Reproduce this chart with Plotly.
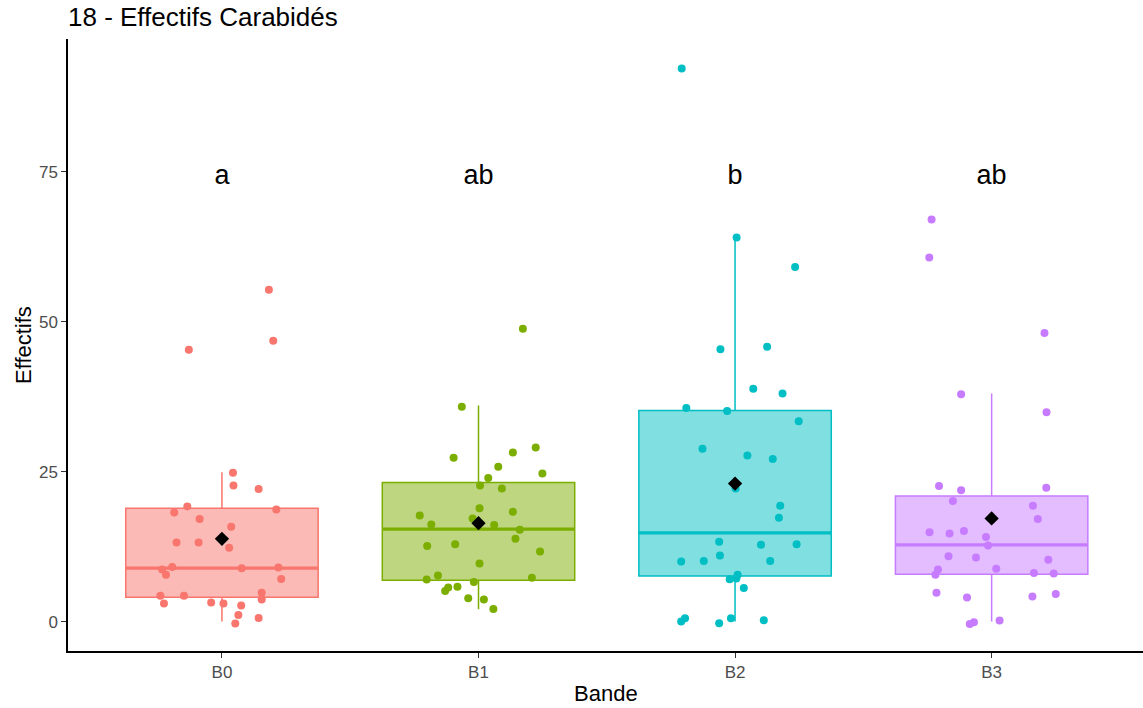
import plotly.graph_objects as go

# ---------------- data ----------------
categories = ["B0", "B1", "B2", "B3"]
colors = ["#F8766D", "#7CAE00", "#00BFC4", "#C77CFF"]
fills = ["rgba(248,118,109,0.5)", "rgba(124,174,0,0.5)", "rgba(0,191,196,0.5)", "rgba(199,124,255,0.5)"]

# box statistics
q1 = [4.07, 6.9, 7.6, 7.9]
median = [8.9, 15.4, 14.8, 12.8]
q3 = [18.9, 23.2, 35.2, 20.95]
lower = [0.0, 2.07, 0.0, 0.0]
upper = [24.9, 36.0, 64.0, 38.0]
means = [13.8, 16.4, 23.0, 17.2]

# letters of significance
letters = ["a", "ab", "b", "ab"]
letter_y = [74, 74, 74, 74]

# jittered observations: horizontal jitter (category units) and values
jit_B0 = [0.183, 0.20, -0.129, 0.043, 0.045, 0.143, -0.135, -0.186, 0.212, -0.087, 0.036,
          -0.177, -0.091, 0.028, -0.194, -0.233, -0.218, 0.077, 0.22, 0.231, -0.24, -0.148,
          -0.226, -0.042, 0.006, 0.155, 0.155, 0.075, 0.064, 0.052, 0.143]
val_B0 = [55.3, 46.8, 45.3, 24.8, 22.7, 22.1, 19.2, 18.2, 18.7, 17.1, 15.8, 13.2, 13.2, 12.3,
          9.1, 8.7, 7.8, 8.9, 9.0, 7.1, 4.3, 4.3, 3.0, 3.2, 3.0, 4.8, 3.7, 2.7, 1.1, -0.3, 0.6]

jit_B1 = [0.173, -0.065, 0.134, 0.223, -0.097, 0.077, 0.249, 0.038, 0.006, 0.091, 0.004,
          -0.229, 0.134, -0.184, -0.023, 0.061, 0.161, 0.144, -0.2, -0.091, 0.24, 0.004,
          -0.202, -0.158, 0.208, -0.018, -0.118, -0.13, -0.082, -0.04, 0.021, 0.058]
val_B1 = [48.8, 35.8, 28.2, 29.0, 27.3, 25.8, 24.7, 23.95, 22.7, 22.2, 18.9, 17.7, 18.3, 16.2,
          17.2, 16.1, 15.3, 13.8, 12.6, 12.9, 11.7, 9.7, 7.0, 7.7, 7.3, 6.6, 5.7, 5.1, 5.8,
          3.9, 3.7, 2.1]

jit_B2 = [-0.208, 0.006, 0.234, -0.057, 0.125, 0.071, 0.185, -0.19, -0.031, 0.248, -0.127,
          0.048, 0.147, 0.002, 0.176, 0.171, -0.062, 0.101, 0.24, -0.059, -0.21, -0.122,
          0.137, 0.01, -0.021, 0.005, 0.034, -0.195, -0.21, -0.062, -0.016, 0.112]
val_B2 = [92.2, 64.0, 59.1, 45.4, 45.8, 38.8, 38.0, 35.6, 35.1, 33.4, 28.8, 27.7, 27.1, 22.2,
          19.3, 17.3, 13.3, 12.8, 12.9, 11.0, 10.0, 10.1, 10.1, 7.8, 7.07, 7.2, 5.6, 0.56,
          0.0, -0.28, 0.56, 0.23]

jit_B3 = [-0.234, -0.243, 0.206, -0.119, 0.214, -0.205, -0.119, 0.213, -0.151, 0.161, 0.18,
          -0.242, -0.164, -0.108, -0.022, -0.014, -0.168, -0.061, 0.221, -0.209, -0.219,
          0.018, 0.165, 0.242, -0.215, -0.096, 0.159, 0.25, -0.085, -0.069, 0.031]
val_B3 = [67.0, 60.7, 48.1, 37.9, 34.9, 22.6, 21.9, 22.3, 20.1, 19.3, 17.1, 14.9, 14.7, 15.1,
          14.1, 12.7, 10.9, 10.7, 10.3, 8.7, 7.8, 8.8, 8.1, 8.0, 4.8, 4.0, 4.2, 4.6, -0.4,
          -0.1, 0.2]

jitters = [jit_B0, jit_B1, jit_B2, jit_B3]
values = [val_B0, val_B1, val_B2, val_B3]

BOX_W = 0.75
FONT = "Liberation Sans, Arial, sans-serif"

fig = go.Figure()

# boxes
for i, cat in enumerate(categories):
    fig.add_trace(go.Box(
        x=[i], q1=[q1[i]], median=[median[i]], q3=[q3[i]],
        lowerfence=[lower[i]], upperfence=[upper[i]],
        orientation="v", width=BOX_W, whiskerwidth=0,
        fillcolor=fills[i], line=dict(color=colors[i], width=1.5),
        boxpoints=False, showlegend=False, hoverinfo="skip",
    ))

# thicker median lines
for i, cat in enumerate(categories):
    fig.add_trace(go.Scatter(
        x=[i - BOX_W / 2, i + BOX_W / 2], y=[median[i], median[i]],
        mode="lines", line=dict(color=colors[i], width=3.2),
        showlegend=False, hoverinfo="skip",
    ))

# jittered points
for i, cat in enumerate(categories):
    fig.add_trace(go.Scatter(
        x=[i + j for j in jitters[i]], y=values[i],
        mode="markers", marker=dict(color=colors[i], size=8, line=dict(width=0)),
        showlegend=False, hoverinfo="skip",
    ))

# means
fig.add_trace(go.Scatter(
    x=list(range(len(categories))), y=means, mode="markers",
    marker=dict(symbol="diamond", color="black", size=11, line=dict(width=0)),
    showlegend=False, hoverinfo="skip",
))

# letters
fig.add_trace(go.Scatter(
    x=list(range(len(categories))), y=letter_y, mode="text", text=letters,
    textposition="middle center", textfont=dict(family=FONT, size=27, color="black"),
    showlegend=False, hoverinfo="skip",
))

fig.update_layout(
    width=1143, height=708,
    margin=dict(l=68, r=0, t=39, b=57),
    plot_bgcolor="white", paper_bgcolor="white",
    font=dict(family=FONT),
    title=dict(text="18 - Effectifs Carabidés", x=68 / 1143, xanchor="left", xref="container",
               y=1 - 17 / 708, yanchor="middle", yref="container",
               font=dict(family=FONT, size=26, color="black")),
    xaxis=dict(range=[-0.6, 3.59], tickvals=list(range(len(categories))), ticktext=categories,
               showgrid=False, zeroline=False, showline=True, linecolor="black", linewidth=1.5,
               ticks="outside", ticklen=5, tickwidth=1.3, tickcolor="#333333",
               tickfont=dict(family=FONT, size=17, color="#4D4D4D")),
    yaxis=dict(range=[-4.9, 97.1], tickvals=[0, 25, 50, 75],
               showgrid=False, zeroline=False, showline=True, linecolor="black", linewidth=1.5,
               ticks="outside", ticklen=5, tickwidth=1.3, tickcolor="#333333",
               tickfont=dict(family=FONT, size=17, color="#4D4D4D")),
    annotations=[
        dict(text="Bande", xref="paper", yref="paper", x=0.5, y=-42 / 612,
             xanchor="center", yanchor="middle", showarrow=False,
             font=dict(family=FONT, size=22, color="black")),
        dict(text="Effectifs", xref="paper", yref="paper", x=-45 / 1075, y=0.5,
             xanchor="center", yanchor="middle", textangle=-90, showarrow=False,
             font=dict(family=FONT, size=22, color="black")),
    ],
)

fig.write_html("out.html")
